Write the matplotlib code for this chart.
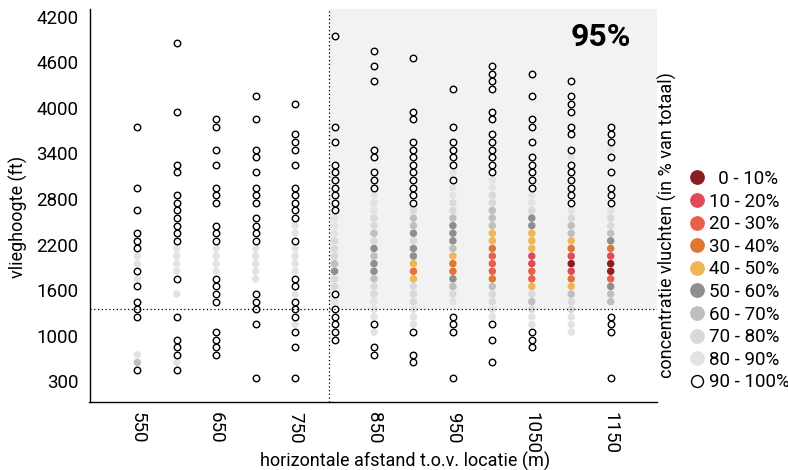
import matplotlib
matplotlib.use("Agg")
import matplotlib.pyplot as plt
from matplotlib.lines import Line2D
from matplotlib.patches import Rectangle

# ---------------- data ----------------
distances = [550, 600, 650, 700, 750, 800, 850, 900, 950, 1000, 1050, 1100, 1150]
# concentration class per altitude row (row 0 = lowest), '.' = no flights
# codes: '0'=0-10%, '1'=10-20%, ... '8'=80-90%, 'o'=90-100%
profiles = [
    ".o68....ooo.o8o88ooo..o..o.......o",
    ".o8ooo..o..8.o8888ooooooo..oo......o........o",
    "...oooo...oooo8888ooo..ooo..o.o..oo",
    "o......o.ooo.88888oooo.ooo.o.oo...o..o",
    "o...o.o8ooo8oo8888o88ooooo..o.ooo...o",
    ".....ooooo8o7756777888ooooooo..o.o...........o",
    "...oo.8o88877655657677888ooo.oo........o.o.o",
    "..oo..o8887774345575667ooooooooo..oo......o",
    "o.....ooo.8765334655567788o8oooo.o....o",
    "..o..o.o8877632223446667788oooooo.oo..oooo",
    "....ooo887674221144455788ooooo.o.oo..o..o",
    "......88877643101346678oooooo8o.oo.ooo.o",
    "o.....ooo.6652001356778ooo.o.o8ooo",
]
class_codes = ["0", "1", "2", "3", "4", "5", "6", "7", "8", "o"]
class_labels = ["  0 - 10%", "10 - 20%", "20 - 30%", "30 - 40%", "40 - 50%",
                "50 - 60%", "60 - 70%", "70 - 80%", "80 - 90%", "90 - 100%"]
class_colors = ["#8c1c24", "#e04a57", "#e8604c", "#df7636", "#efb655",
                "#8f8f8f", "#bfbfbf", "#d9d9d9", "#e3e3e3", "white"]

ytick_rows = [-0.5, 5.5, 11.5, 17.5, 23.5, 29.5, 35.5, 41.5, 47.5]
ytick_labels = ["300", "1000", "1600", "2200", "2800", "3400", "4000", "4600", "4200"]
xtick_values = [550, 650, 750, 850, 950, 1050, 1150]
threshold_x = 793
threshold_row = 9.1
highlight_text = "95%"

# ---------------- figure ----------------
W, H = 788, 470
fig = plt.figure(figsize=(W / 100, H / 100), dpi=100)
FONT = ["Roboto", "DejaVu Sans"]
plt.rcParams["font.family"] = FONT

ax_l, ax_r, ax_t, ax_b = 89.5, 657, 9, 402
ax = fig.add_axes([ax_l / W, 1 - ax_b / H, (ax_r - ax_l) / W, (ax_b - ax_t) / H])
ax.set_xlim(489.4, 1208.7)
ax.set_ylim(-3.2, 48.5)

# shaded region (above threshold altitude, beyond threshold distance)
ax.add_patch(Rectangle((threshold_x, threshold_row), 1208.7 - threshold_x, 48.5 - threshold_row,
                       facecolor="#f2f2f2", edgecolor="none", zorder=0))

ax.axvline(threshold_x, color="black", lw=0.9, ls=(0, (1, 2)), zorder=4)
ax.axhline(threshold_row, color="black", lw=0.9, ls=(0, (1, 2)), zorder=4)

for code, color in zip(class_codes, class_colors):
    xs, ys = [], []
    for d, prof in zip(distances, profiles):
        for row, c in enumerate(prof):
            if c == code:
                xs.append(d)
                ys.append(row)
    if code == "o":
        ax.scatter(xs, ys, s=22, facecolor="white", edgecolor="black", linewidth=1.0, zorder=3)
    else:
        ax.scatter(xs, ys, s=29, facecolor=color, edgecolor="none", zorder=3)

ax.text(0.901, 0.9295, highlight_text, transform=ax.transAxes, ha="center", va="center",
        fontsize=23, fontweight="bold")

for s in ["top", "right"]:
    ax.spines[s].set_visible(False)
ax.spines["left"].set_linewidth(1.0)
ax.spines["bottom"].set_linewidth(1.0)

ax.set_yticks(ytick_rows)
ax.set_yticklabels(ytick_labels, fontsize=13.5)
ax.set_xticks(xtick_values)
ax.set_xticklabels([str(v) for v in xtick_values], fontsize=13.5, rotation=-90)
ax.tick_params(axis="both", length=0)
ax.tick_params(axis="y", pad=8)
ax.tick_params(axis="x", pad=7)

fig.text(18 / W, 1 - 217 / H, "vlieghoogte (ft)", rotation=90, ha="center", va="center", fontsize=13)
fig.text(405 / W, 1 - 461 / H, "horizontale afstand t.o.v. locatie (m)", ha="center", va="center",
         fontsize=13)

handles = []
for code, color in zip(class_codes, class_colors):
    if code == "o":
        handles.append(Line2D([], [], marker="o", ls="", markersize=8.6, markerfacecolor="white",
                              markeredgecolor="black", markeredgewidth=1.0))
    else:
        handles.append(Line2D([], [], marker="o", ls="", markersize=9.6, markerfacecolor=color,
                              markeredgecolor=color))
leg = fig.legend(handles, class_labels, loc="upper left", bbox_to_anchor=(688 / W, 1 - 170 / H),
                 frameon=False, fontsize=13.5, handletextpad=0.1, labelspacing=0.245,
                 handlelength=1.0, borderpad=0, borderaxespad=0)
fig.text(667 / W, 1 - 225 / H, "concentratie vluchten (in % van totaal)", rotation=90,
         ha="center", va="center", fontsize=13)

fig.savefig("out.png", dpi=100)
